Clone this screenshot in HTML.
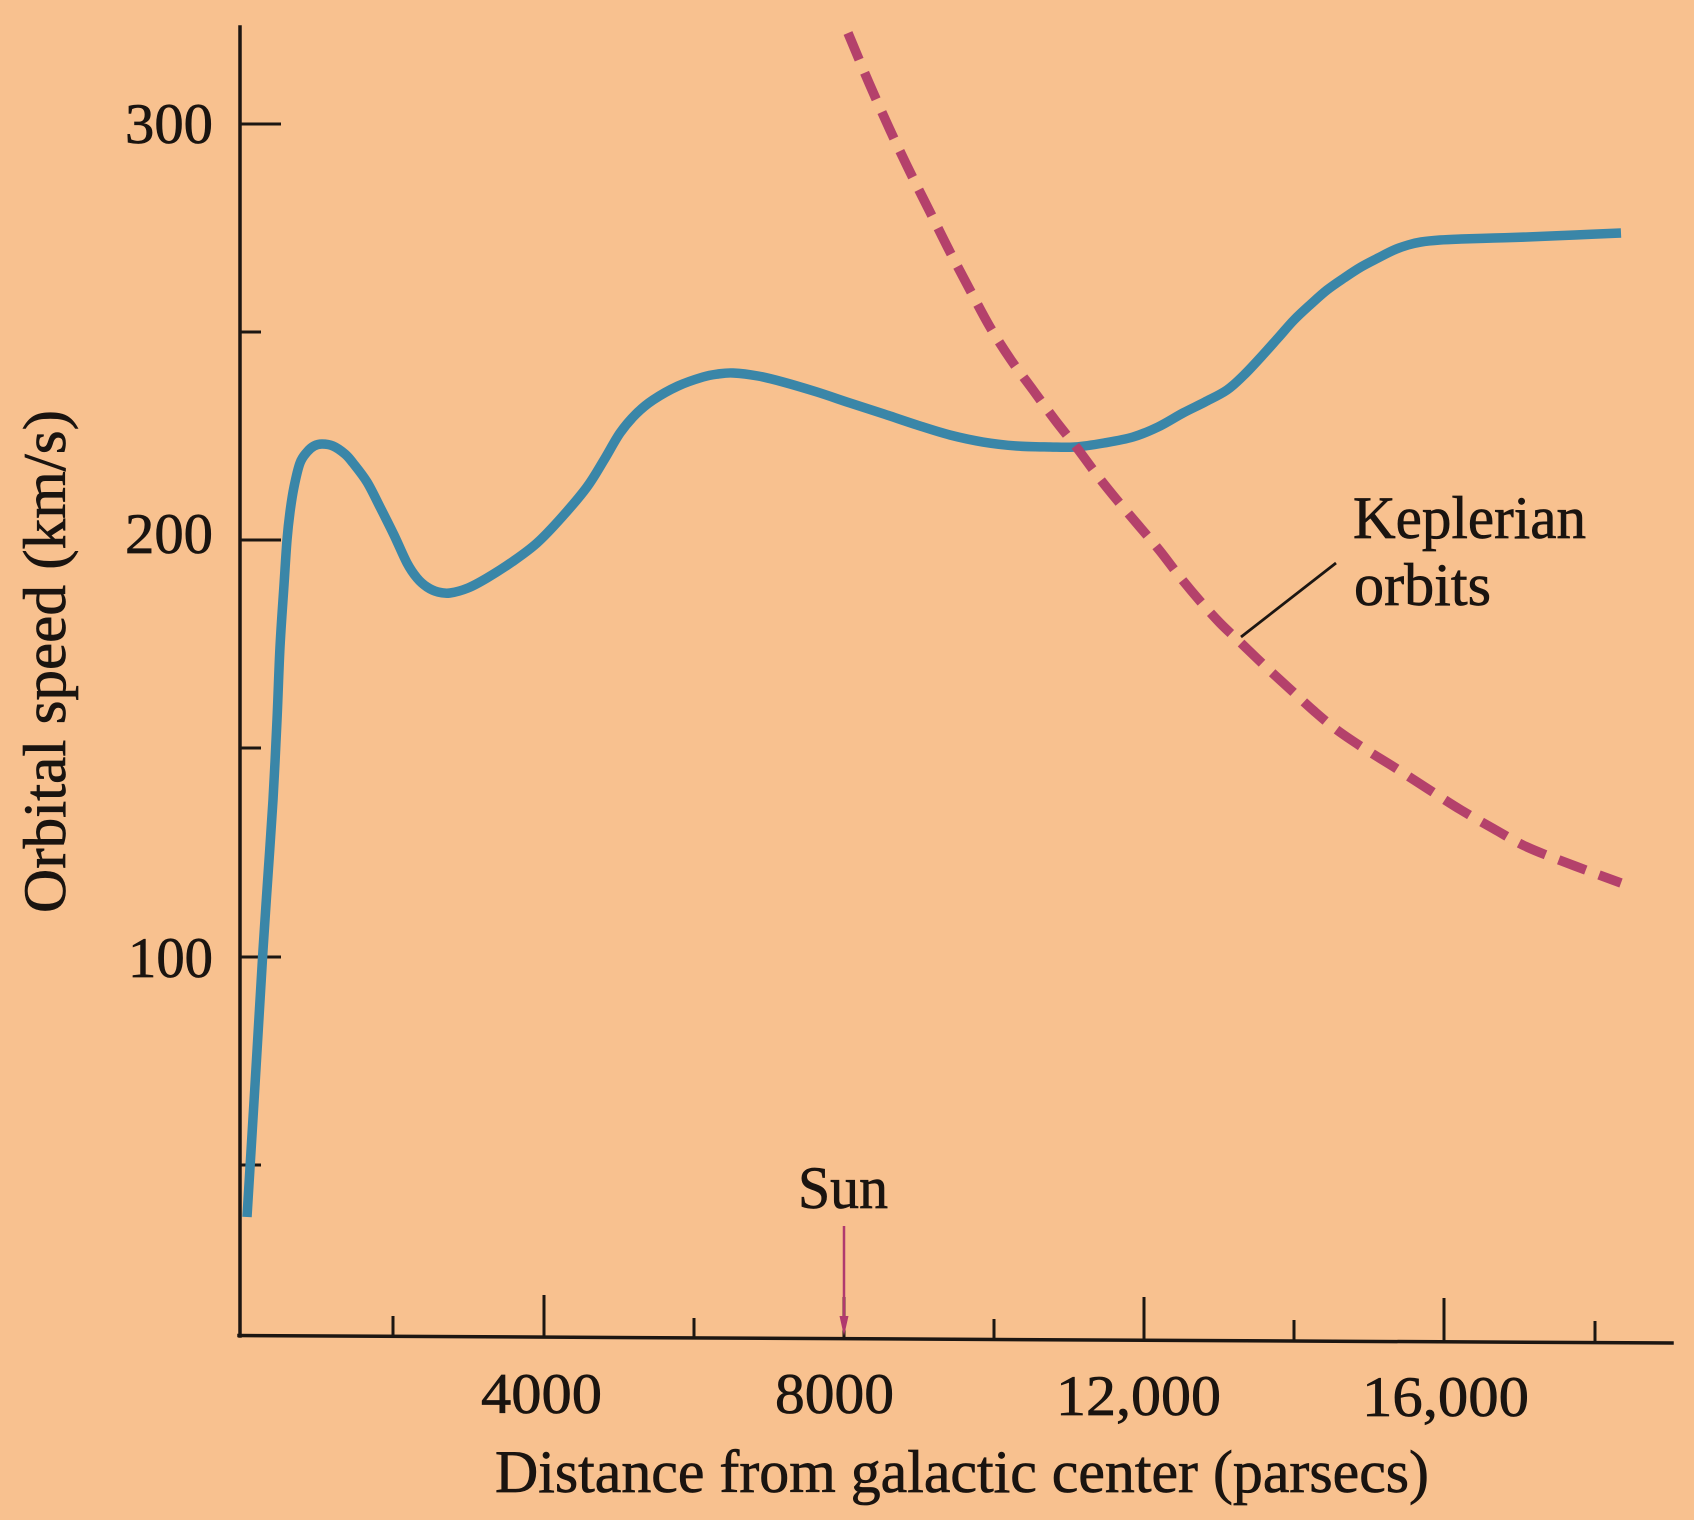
<!DOCTYPE html>
<html>
<head>
<meta charset="utf-8">
<style>
  html, body { margin: 0; padding: 0; background: #f8c18f; }
  svg { display: block; }
  text { font-family: "Liberation Serif", "DejaVu Serif", serif; fill: #1a1410; stroke: #1a1410; stroke-width: 0.7; }
</style>
</head>
<body>
<svg id="chart" width="1694" height="1520" viewBox="0 0 1694 1520" xmlns="http://www.w3.org/2000/svg">
  <rect x="0" y="0" width="1694" height="1520" fill="#f8c18f"/>

  <!-- Axes -->
  <g stroke="#1c1612" stroke-width="3.5" fill="none" stroke-linecap="square">
    <line x1="240" y1="27" x2="240" y2="1336"/>
    <line x1="239" y1="1335.5" x2="1672" y2="1343"/>
  </g>

  <!-- Y ticks -->
  <g stroke="#1c1612" stroke-width="3" fill="none">
    <line x1="240" y1="124" x2="281" y2="124"/>
    <line x1="240" y1="332" x2="261" y2="332"/>
    <line x1="240" y1="540" x2="281" y2="540"/>
    <line x1="240" y1="748" x2="261" y2="748"/>
    <line x1="240" y1="957" x2="281" y2="957"/>
    <line x1="240" y1="1165" x2="261" y2="1165"/>
  </g>

  <!-- X ticks -->
  <g stroke="#1c1612" stroke-width="3" fill="none">
    <line x1="393" y1="1316" x2="393" y2="1337"/>
    <line x1="544" y1="1295" x2="544" y2="1337"/>
    <line x1="694" y1="1318" x2="694" y2="1338"/>
    <line x1="844" y1="1297" x2="844" y2="1339"/>
    <line x1="994" y1="1319" x2="994" y2="1340"/>
    <line x1="1144" y1="1297" x2="1144" y2="1341"/>
    <line x1="1294" y1="1320" x2="1294" y2="1341"/>
    <line x1="1444" y1="1298" x2="1444" y2="1342"/>
    <line x1="1595" y1="1321" x2="1595" y2="1343"/>
  </g>

  <!-- Y tick labels -->
  <g font-size="57" text-anchor="end">
    <text x="213" y="143" textLength="88" lengthAdjust="spacingAndGlyphs">300</text>
    <text x="213" y="553" textLength="88" lengthAdjust="spacingAndGlyphs">200</text>
    <text x="213" y="977" textLength="85" lengthAdjust="spacingAndGlyphs">100</text>
  </g>

  <!-- X tick labels -->
  <g font-size="57">
    <text x="481" y="1413" textLength="121" lengthAdjust="spacingAndGlyphs">4000</text>
    <text x="775" y="1413" textLength="119" lengthAdjust="spacingAndGlyphs">8000</text>
    <text x="1056" y="1415" textLength="165" lengthAdjust="spacingAndGlyphs">12,000</text>
    <text x="1362" y="1416" textLength="167" lengthAdjust="spacingAndGlyphs">16,000</text>
  </g>

  <!-- Axis titles -->
  <text x="495" y="1492" font-size="60" textLength="934" lengthAdjust="spacingAndGlyphs">Distance from galactic center (parsecs)</text>
  <text transform="translate(65,913) rotate(-90)" x="0" y="0" font-size="60" textLength="503" lengthAdjust="spacingAndGlyphs">Orbital speed (km/s)</text>

  <!-- Rotation curve (blue) -->
  <polyline class="smooth" fill="none" stroke="#3a86a8" stroke-width="9.5" stroke-linejoin="round" stroke-linecap="butt"
    points="247,1217 255,1085 263,950 268,875 273,800 277,720 280,647 284,585 287,540 290,512 294,487 300,463 307,452 314,446 322,444 333,446 345,454 353,463 367,482 380,507 394,535 407,563 417,578 427,587 438,592 450,593 468,588 487,578 512,562 537,543 562,517 587,487 604,460 620,433 636,414 653,400 678,386 703,377 718,374 733,373 758,376 783,382 817,392 850,403 884,414 917,425 950,435 983,442 1017,446 1050,447 1075,447 1104,443 1133,437 1158,427 1183,413 1205,402 1227,390 1244,375 1261,357 1278,338 1294,320 1311,304 1327,290 1344,278 1361,267 1378,258 1394,250 1408,245 1421,242 1440,240 1461,239 1494,238 1527,237 1575,235 1621,233"/>

  <!-- Keplerian (dashed) -->
  <polyline class="smooth" fill="none" stroke="#b4416b" stroke-width="9.5" stroke-dasharray="29 14" stroke-linejoin="round" stroke-linecap="butt"
    points="848,33 869,83 890,130 910,172 930,212 950,252 970,290 990,327 1011,360 1033,390 1055,420 1077,448 1097,475 1117,500 1139,526 1160,551 1180,577 1200,601 1220,623 1241,643 1266,667 1291,690 1314,711 1337,730 1365,749 1394,767 1428,789 1461,810 1494,829 1527,847 1575,866 1621,883"/>

  <!-- Leader line -->
  <line x1="1336" y1="563" x2="1241" y2="637" stroke="#1c1612" stroke-width="2.8"/>

  <!-- Keplerian label -->
  <text x="1353" y="538" font-size="60" textLength="233" lengthAdjust="spacingAndGlyphs">Keplerian</text>
  <text x="1354" y="605" font-size="60" textLength="137" lengthAdjust="spacingAndGlyphs">orbits</text>

  <!-- Sun marker -->
  <text x="798" y="1208" font-size="60" textLength="90" lengthAdjust="spacingAndGlyphs">Sun</text>
  <line x1="844" y1="1226" x2="844" y2="1322" stroke="#b03a6e" stroke-width="2.5"/>
  <polygon points="839.5,1316 848.5,1316 844,1336" fill="#b03a6e"/>
</svg>
<script>
(function(){
  var svg = document.getElementById('chart');
  var lines = svg.querySelectorAll('polyline.smooth');
  for (var k = 0; k < lines.length; k++) {
    var pl = lines[k];
    var raw = pl.getAttribute('points').trim().split(/\s+/);
    var p = raw.map(function(s){ var a = s.split(','); return [parseFloat(a[0]), parseFloat(a[1])]; });
    if (p.length < 3) continue;
    var d = 'M' + p[0][0] + ',' + p[0][1];
    for (var i = 0; i < p.length - 1; i++) {
      var p0 = p[i === 0 ? 0 : i - 1], p1 = p[i], p2 = p[i + 1], p3 = p[i + 2 < p.length ? i + 2 : p.length - 1];
      var c1x = p1[0] + (p2[0] - p0[0]) / 6, c1y = p1[1] + (p2[1] - p0[1]) / 6;
      var c2x = p2[0] - (p3[0] - p1[0]) / 6, c2y = p2[1] - (p3[1] - p1[1]) / 6;
      d += ' C' + c1x.toFixed(2) + ',' + c1y.toFixed(2) + ' ' + c2x.toFixed(2) + ',' + c2y.toFixed(2) + ' ' + p2[0] + ',' + p2[1];
    }
    var path = document.createElementNS('http://www.w3.org/2000/svg', 'path');
    var attrs = ['fill','stroke','stroke-width','stroke-dasharray','stroke-linejoin','stroke-linecap'];
    for (var j = 0; j < attrs.length; j++) {
      var v = pl.getAttribute(attrs[j]);
      if (v !== null) path.setAttribute(attrs[j], v);
    }
    path.setAttribute('d', d);
    pl.parentNode.replaceChild(path, pl);
  }
})();
</script>
</body>
</html>
